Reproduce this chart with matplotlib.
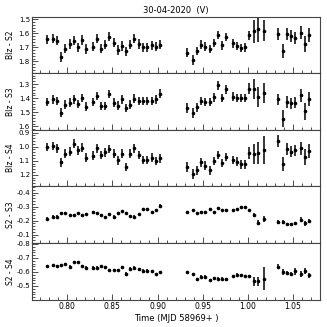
import numpy as np
import matplotlib
matplotlib.use("Agg")
import matplotlib.pyplot as plt
from matplotlib.ticker import MultipleLocator, AutoMinorLocator, FormatStrFormatter

# Observation times (MJD - 58969)
time = [0.7779, 0.7838, 0.7882, 0.7926, 0.7971, 0.8030, 0.8074, 0.8119, 0.8163, 0.8207,
        0.8281, 0.8326, 0.8370, 0.8414, 0.8459, 0.8518, 0.8562, 0.8606, 0.8651, 0.8695,
        0.8739, 0.8791, 0.8836, 0.8880, 0.8939, 0.8983, 0.9028,
        0.9331, 0.9390, 0.9434, 0.9479, 0.9523, 0.9582, 0.9626, 0.9671, 0.9715, 0.9759,
        0.9833, 0.9878, 0.9922, 0.9966, 1.0011, 1.0070, 1.0114, 1.0173,
        1.0332, 1.0391, 1.0436, 1.0480, 1.0524, 1.0583, 1.0628, 1.0672]

# Differential magnitudes
blz_s2 = [1.643, 1.638, 1.652, 1.767, 1.710, 1.676, 1.652, 1.700, 1.648, 1.714,
          1.695, 1.638, 1.710, 1.681, 1.624, 1.667, 1.719, 1.691, 1.729, 1.681,
          1.638, 1.676, 1.700, 1.700, 1.686, 1.695, 1.681,
          1.738, 1.791, 1.724, 1.681, 1.695, 1.710, 1.667, 1.610, 1.686, 1.624,
          1.672, 1.691, 1.705, 1.700, 1.615, 1.586, 1.572, 1.581,
          1.605, 1.729, 1.605, 1.619, 1.634, 1.595, 1.676, 1.610]
blz_s3 = [1.427, 1.408, 1.418, 1.503, 1.446, 1.432, 1.408, 1.441, 1.399, 1.460,
          1.427, 1.384, 1.455, 1.455, 1.370, 1.432, 1.455, 1.408, 1.470, 1.446,
          1.403, 1.418, 1.418, 1.418, 1.418, 1.408, 1.370,
          1.470, 1.503, 1.465, 1.418, 1.427, 1.427, 1.394, 1.309, 1.399, 1.337,
          1.389, 1.399, 1.399, 1.399, 1.332, 1.337, 1.389, 1.365,
          1.408, 1.545, 1.427, 1.436, 1.432, 1.380, 1.493, 1.408]
blz_s4 = [1.002, 0.993, 1.012, 1.112, 1.050, 1.035, 0.978, 1.026, 1.007, 1.078,
          1.064, 1.012, 1.059, 1.040, 1.016, 1.050, 1.097, 1.050, 1.145, 1.050,
          1.012, 1.059, 1.093, 1.093, 1.078, 1.102, 1.083,
          1.145, 1.197, 1.169, 1.112, 1.135, 1.169, 1.102, 1.059, 1.116, 1.074,
          1.093, 1.107, 1.126, 1.126, 1.045, 1.050, 1.045, 1.026,
          0.959, 1.121, 1.016, 1.035, 1.026, 1.012, 1.074, 1.031]
s2_s3 = [-0.215, -0.229, -0.229, -0.253, -0.253, -0.238, -0.243, -0.253, -0.243, -0.248,
         -0.262, -0.253, -0.243, -0.224, -0.248, -0.229, -0.257, -0.267, -0.253, -0.234,
         -0.229, -0.248, -0.281, -0.281, -0.262, -0.276, -0.305,
         -0.262, -0.276, -0.253, -0.262, -0.262, -0.281, -0.262, -0.291, -0.276, -0.276,
         -0.276, -0.286, -0.295, -0.295, -0.276, -0.238, -0.186, -0.210,
         -0.190, -0.190, -0.176, -0.174, -0.180, -0.207, -0.180, -0.200]
s2_s4 = [-0.643, -0.648, -0.643, -0.648, -0.657, -0.638, -0.671, -0.671, -0.643, -0.629,
         -0.629, -0.629, -0.643, -0.633, -0.614, -0.614, -0.614, -0.633, -0.586, -0.624,
         -0.629, -0.619, -0.610, -0.610, -0.605, -0.586, -0.600,
         -0.600, -0.586, -0.548, -0.567, -0.567, -0.543, -0.557, -0.552, -0.552, -0.548,
         -0.571, -0.581, -0.576, -0.571, -0.571, -0.533, -0.533, -0.552,
         -0.638, -0.600, -0.595, -0.586, -0.605, -0.586, -0.605, -0.576]

# Errors
err_s2 = [0.033, 0.033, 0.033, 0.035, 0.033, 0.033, 0.033, 0.033, 0.033, 0.035,
          0.033, 0.033, 0.033, 0.033, 0.033, 0.033, 0.035, 0.033, 0.033, 0.033,
          0.033, 0.033, 0.033, 0.033, 0.033, 0.033, 0.033,
          0.030, 0.035, 0.030, 0.030, 0.030, 0.030, 0.030, 0.030, 0.030, 0.030,
          0.030, 0.030, 0.030, 0.030, 0.035, 0.080, 0.090, 0.075,
          0.040, 0.050, 0.040, 0.040, 0.045, 0.045, 0.060, 0.050]
err_s3 = [0.030, 0.030, 0.030, 0.032, 0.030, 0.030, 0.030, 0.030, 0.030, 0.032,
          0.030, 0.030, 0.030, 0.030, 0.030, 0.030, 0.032, 0.030, 0.030, 0.030,
          0.030, 0.030, 0.030, 0.030, 0.030, 0.030, 0.032,
          0.035, 0.035, 0.030, 0.030, 0.030, 0.030, 0.030, 0.030, 0.030, 0.030,
          0.030, 0.030, 0.030, 0.030, 0.040, 0.070, 0.070, 0.070,
          0.040, 0.060, 0.045, 0.040, 0.040, 0.045, 0.060, 0.050]
err_s4 = [0.030, 0.030, 0.030, 0.032, 0.030, 0.030, 0.030, 0.030, 0.030, 0.032,
          0.030, 0.030, 0.030, 0.030, 0.030, 0.030, 0.032, 0.030, 0.030, 0.030,
          0.030, 0.030, 0.030, 0.030, 0.030, 0.030, 0.030,
          0.035, 0.035, 0.030, 0.030, 0.030, 0.030, 0.030, 0.030, 0.030, 0.030,
          0.030, 0.030, 0.030, 0.030, 0.040, 0.070, 0.080, 0.100,
          0.040, 0.050, 0.040, 0.040, 0.040, 0.045, 0.060, 0.050]
err_23 = [0.008, 0.008, 0.008, 0.008, 0.008, 0.008, 0.008, 0.008, 0.008, 0.008,
          0.008, 0.008, 0.008, 0.008, 0.008, 0.008, 0.008, 0.008, 0.008, 0.008,
          0.008, 0.008, 0.008, 0.008, 0.008, 0.008, 0.014,
          0.008, 0.008, 0.008, 0.008, 0.008, 0.008, 0.008, 0.008, 0.008, 0.008,
          0.008, 0.008, 0.008, 0.008, 0.008, 0.015, 0.020, 0.020,
          0.012, 0.012, 0.010, 0.010, 0.012, 0.020, 0.015, 0.015]
err_24 = [0.010, 0.010, 0.010, 0.010, 0.010, 0.010, 0.010, 0.010, 0.010, 0.010,
          0.010, 0.010, 0.010, 0.010, 0.010, 0.010, 0.010, 0.010, 0.012, 0.010,
          0.010, 0.010, 0.010, 0.010, 0.010, 0.010, 0.010,
          0.010, 0.010, 0.010, 0.010, 0.010, 0.010, 0.010, 0.010, 0.010, 0.010,
          0.010, 0.010, 0.010, 0.010, 0.010, 0.030, 0.030, 0.083,
          0.020, 0.020, 0.015, 0.015, 0.025, 0.020, 0.020, 0.020]

labels = ["Blz - S2", "Blz - S3", "Blz - S4", "S2 - S3", "S2 - S4"]
series = [blz_s2, blz_s3, blz_s4, s2_s3, s2_s4]
errors = [err_s2, err_s3, err_s4, err_23, err_24]
# y limits (inverted: magnitude axes)
ylims = [(1.885, 1.481), (1.625, 1.223), (1.284, 0.880), (-0.040, -0.444), (-0.402, -0.806)]

plt.rcParams['font.family'] = 'DejaVu Sans'

fig, axes = plt.subplots(5, 1, figsize=(3.27, 3.27), dpi=100, sharex=True)
fig.subplots_adjust(left=0.098, right=0.979, top=0.949, bottom=0.0835, hspace=0)

for ax, y, e, lab, yl in zip(axes, series, errors, labels, ylims):
    ax.errorbar(time, y, yerr=e, fmt='o', color='black', ms=2.6, elinewidth=1.1,
                capsize=0, mew=0)
    ax.set_ylim(*yl)
    ax.set_xlim(0.761, 1.080)
    ax.set_ylabel(lab, fontsize=5.5)
    ax.yaxis.set_label_coords(-0.06, 0.5)
    ax.yaxis.set_major_locator(MultipleLocator(0.1))
    ax.yaxis.set_minor_locator(AutoMinorLocator(5))
    ax.yaxis.set_major_formatter(FormatStrFormatter('%.1f'))
    ax.xaxis.set_major_locator(MultipleLocator(0.05))
    ax.xaxis.set_minor_locator(MultipleLocator(0.01))
    ax.tick_params(which='both', direction='in', width=0.6, color='#333333', pad=1.5)
    ax.tick_params(axis='y', labelsize=5)
    ax.tick_params(axis='x', labelsize=5.5)
    ax.tick_params(which='major', length=4)
    ax.tick_params(which='minor', length=2)
    for sp in ax.spines.values():
        sp.set_color('#444444')
        sp.set_linewidth(0.8)

axes[0].set_title("30-04-2020  (V)", fontsize=6, pad=3)
axes[-1].set_xlabel("Time (MJD 58969+ )", fontsize=6, labelpad=2)
axes[-1].xaxis.set_major_formatter(FormatStrFormatter('%.2f'))

fig.savefig("out.png", dpi=100)
